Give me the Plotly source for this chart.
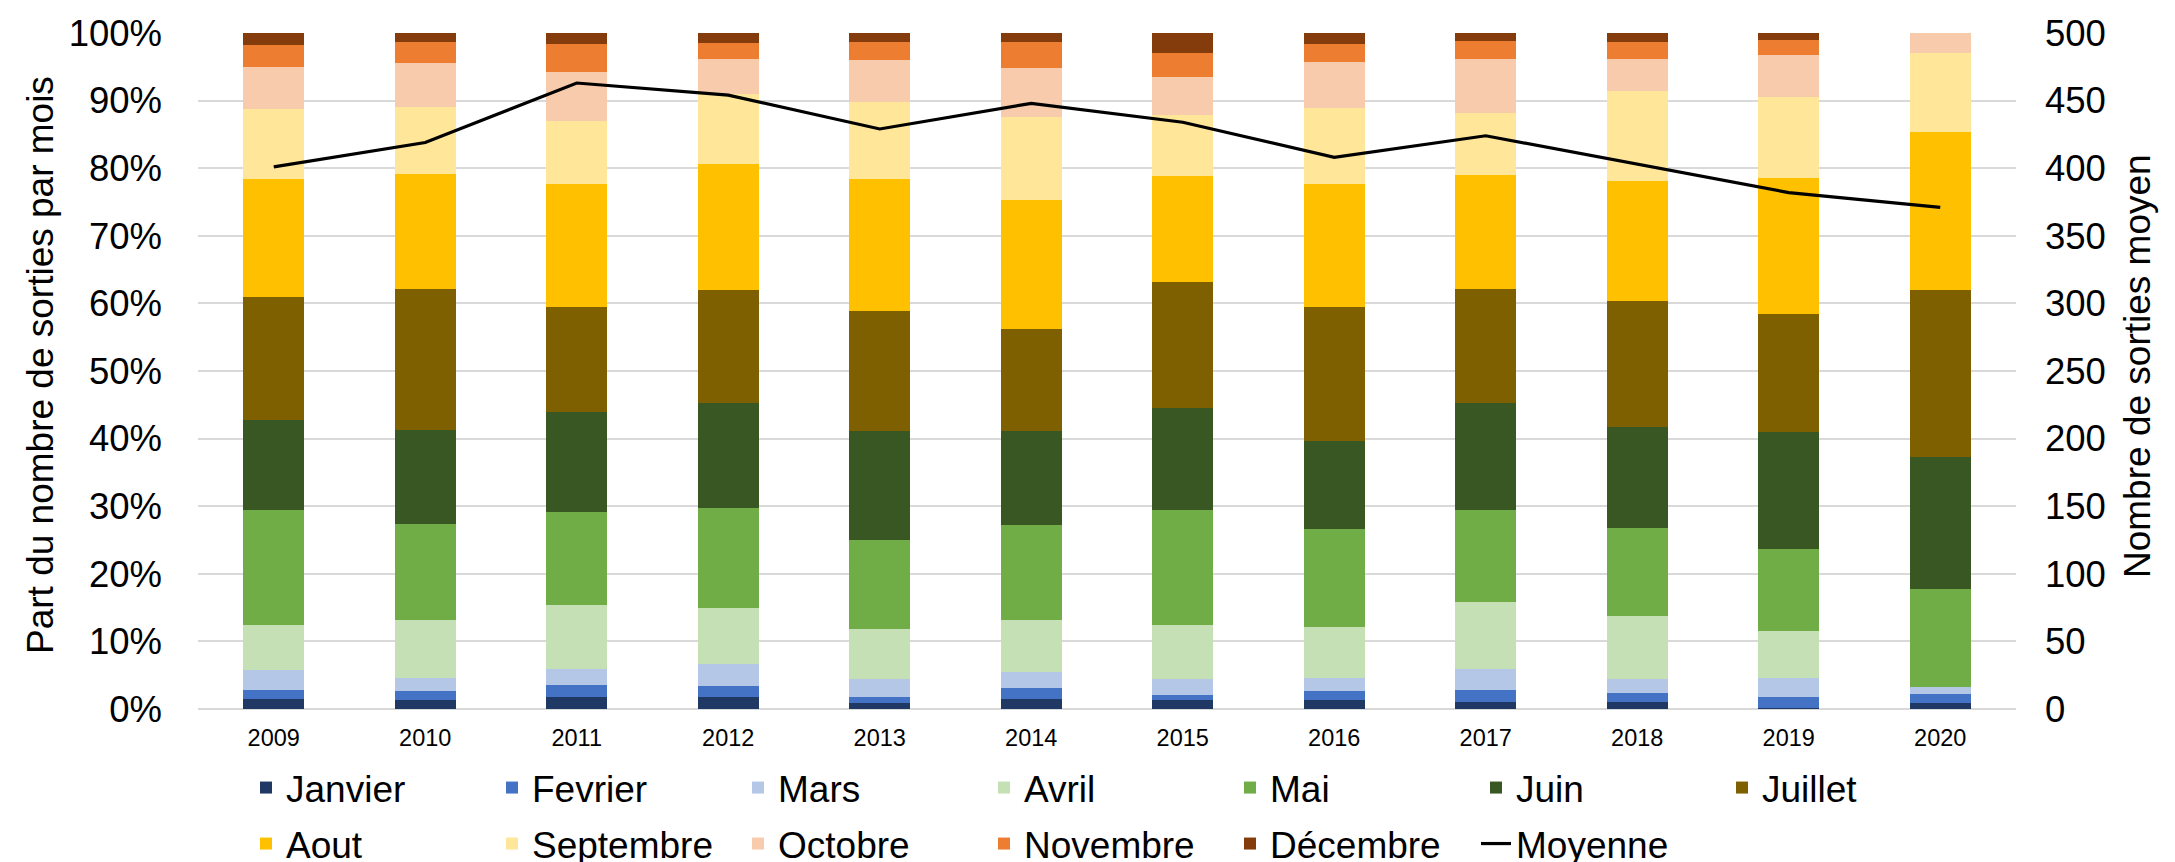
import plotly.graph_objects as go

annees = ["2009", "2010", "2011", "2012", "2013", "2014", "2015", "2016", "2017", "2018", "2019", "2020"]

# Part (%) du nombre de sorties par mois
janvier = [1.5, 1.3, 1.8, 1.8, 0.9, 1.5, 1.3, 1.4, 1.0, 1.0, 0.2, 0.9]
fevrier = [1.3, 1.4, 1.8, 1.6, 0.9, 1.6, 0.8, 1.2, 1.8, 1.4, 1.6, 1.3]
mars = [3.0, 1.9, 2.3, 3.3, 2.6, 2.4, 2.3, 2.0, 3.1, 2.0, 2.8, 1.1]
avril = [6.7, 8.6, 9.5, 8.3, 7.5, 7.6, 8.0, 7.6, 9.9, 9.3, 6.9, 0.0]
mai = [16.9, 14.1, 13.8, 14.8, 13.1, 14.1, 17.1, 14.4, 13.7, 13.1, 12.2, 14.5]
juin = [13.3, 13.9, 14.7, 15.5, 16.2, 13.9, 15.1, 13.0, 15.7, 14.9, 17.3, 19.5]
juillet = [18.3, 20.9, 15.5, 16.7, 17.7, 15.0, 18.5, 19.8, 16.9, 18.7, 17.4, 24.8]
aout = [17.4, 17.0, 18.3, 18.6, 19.6, 19.1, 15.8, 18.3, 16.9, 17.8, 20.0, 23.3]
septembre = [10.4, 9.9, 9.3, 10.4, 11.4, 12.3, 8.9, 11.2, 9.2, 13.3, 12.0, 11.7]
octobre = [6.1, 6.6, 7.2, 5.2, 6.2, 7.2, 5.7, 6.8, 8.0, 4.8, 6.2, 3.0]
novembre = [3.3, 3.1, 4.2, 2.3, 2.6, 3.9, 3.5, 2.6, 2.6, 2.4, 2.2, 0.0]
decembre = [1.8, 1.3, 1.6, 1.5, 1.4, 1.3, 3.0, 1.7, 1.2, 1.4, 1.1, 0.0]

# Nombre de sorties moyen
moyenne = [401, 419, 463, 454, 429, 448, 434, 408, 424, 403, 382, 371]

mois_noms = ["Janvier", "Fevrier", "Mars", "Avril", "Mai", "Juin", "Juillet",
             "Aout", "Septembre", "Octobre", "Novembre", "Décembre"]
mois_valeurs = [janvier, fevrier, mars, avril, mai, juin, juillet,
                aout, septembre, octobre, novembre, decembre]
mois_couleurs = ["#203864", "#4472C4", "#B4C7E7", "#C5E0B4", "#70AD47", "#385723",
                 "#7F6000", "#FFC000", "#FFE699", "#F8CBAD", "#ED7D31", "#843C0C"]

titre_gauche = "Part du nombre de sorties par mois"
titre_droite = "Nombre de sorties moyen"

FONT = "Liberation Sans, Arial, sans-serif"

fig = go.Figure()
for i, (nom, vals, col) in enumerate(zip(mois_noms, mois_valeurs, mois_couleurs)):
    fig.add_trace(go.Bar(
        x=annees, y=vals, name=nom,
        marker=dict(color=col, line=dict(width=0)),
        legend="legend" if i < 7 else "legend2",
    ))

fig.add_trace(go.Scatter(
    x=annees, y=moyenne, name="Moyenne", mode="lines",
    line=dict(color="black", width=3.2),
    yaxis="y2", legend="legend2",
))

W, H = 2175, 862
L, R, T, B = 190, 167, 25, 161
pw = W - L - R
ph = H - T - B


def px(xp):
    return (xp - L) / pw


def py(yp):
    return (H - B - yp) / ph


leg_common = dict(orientation="h", xanchor="left", yanchor="middle",
                  entrywidth=201, entrywidthmode="pixels", font=dict(size=37),
                  bgcolor="rgba(0,0,0,0)", traceorder="normal")

fig.update_layout(
    width=W, height=H,
    margin=dict(l=L, r=R, t=T, b=B, autoexpand=False),
    barmode="stack", barnorm="percent", bargap=0.6,
    plot_bgcolor="white", paper_bgcolor="white",
    font=dict(family=FONT, size=37, color="black"),
    xaxis=dict(type="category", showgrid=False, ticks="", showline=False,
               tickfont=dict(size=23.5), ticklabelstandoff=12),
    yaxis=dict(range=[0, 100], dtick=10, ticksuffix="%", showgrid=True,
               gridcolor="#D9D9D9", gridwidth=2, zeroline=True,
               zerolinecolor="#D9D9D9", zerolinewidth=2, ticks="",
               tickfont=dict(size=36.5), ticklabelstandoff=35),
    yaxis2=dict(overlaying="y", side="right", range=[0, 500], dtick=50,
                showgrid=False, zeroline=False, ticks="",
                tickfont=dict(size=36.5), ticklabelstandoff=28),
    legend=dict(x=px(238), y=py(780), **leg_common),
    legend2=dict(x=px(238), y=py(836), **leg_common),
)

fig.add_annotation(text=titre_gauche, textangle=-90, xref="paper", yref="paper",
                   x=px(33), y=py(357), xanchor="center", yanchor="middle",
                   showarrow=False, font=dict(size=37, color="black"))
fig.add_annotation(text=titre_droite, textangle=-90, xref="paper", yref="paper",
                   x=px(2129), y=py(358), xanchor="center", yanchor="middle",
                   showarrow=False, font=dict(size=37, color="black"))

fig.write_html("out.html")
